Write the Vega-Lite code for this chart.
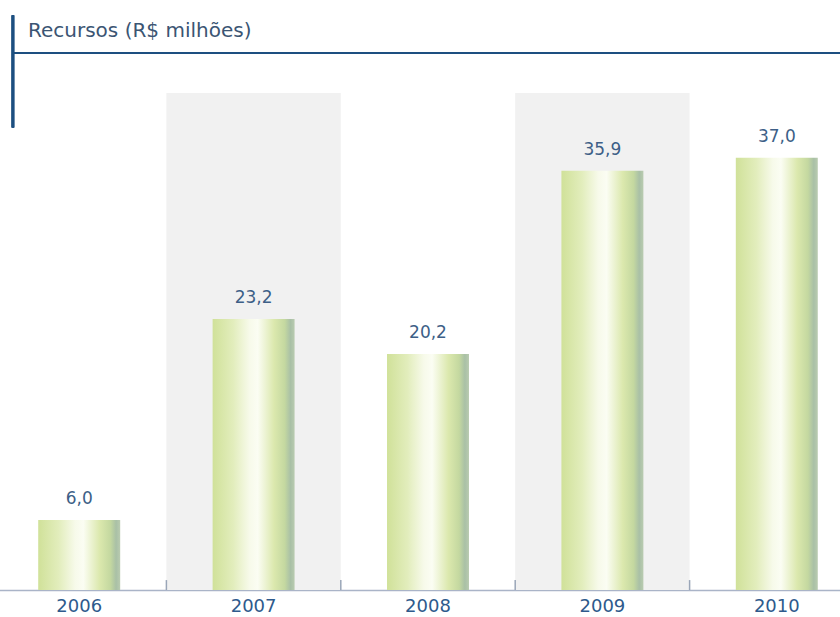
{
  "$schema": "https://vega.github.io/schema/vega-lite/v6.json",
  "width": 840,
  "height": 550,
  "autosize": {"type": "none"},
  "padding": {"top": 40, "left": 0, "right": 0, "bottom": 27},
  "background": "#ffffff",
  "title": {
    "text": "Recursos (R$ milhões)",
    "anchor": "start",
    "frame": "group",
    "dx": 28,
    "offset": -27,
    "fontSize": 20,
    "font": "DejaVu Sans",
    "fontWeight": "normal",
    "color": "#3b5573"
  },
  "config": {
    "view": {"stroke": null},
    "locale": {"number": {"decimal": ",", "thousands": ".", "grouping": [3], "currency": ["R$", ""]}}
  },
  "data": {
    "values": [
      {"ano": "2006", "valor": 6.0},
      {"ano": "2007", "valor": 23.2},
      {"ano": "2008", "valor": 20.2},
      {"ano": "2009", "valor": 35.9},
      {"ano": "2010", "valor": 37.0}
    ]
  },
  "layer": [
    {
      "transform": [{"filter": {"field": "ano", "oneOf": ["2007", "2009"]}}],
      "mark": {"type": "bar", "width": {"band": 1}, "color": "#f1f1f1"},
      "encoding": {
        "x": {
          "field": "ano",
          "type": "ordinal",
          "scale": {"domain": ["2006", "2007", "2008", "2009", "2010"], "range": [-8, 864], "paddingInner": 0, "paddingOuter": 0},
          "axis": {
            "title": null,
            "ticks": false,
            "labelFontSize": 18,
            "labelFont": "DejaVu Sans",
            "labelColor": "#2e5a8c",
            "labelPadding": 7,
            "labelAngle": 0,
            "domainColor": "#aab4c8",
            "domainWidth": 1.5
          }
        },
        "y": {"datum": 42.55, "type": "quantitative", "scale": {"domain": [0, 47.09], "nice": false, "zero": true}, "axis": null},
        "y2": {"datum": 0}
      }
    },
    {
      "transform": [{"filter": {"field": "ano", "oneOf": ["2007", "2008", "2009", "2010"]}}],
      "mark": {"type": "rule", "color": "#9aa6b8", "strokeWidth": 1.5},
      "encoding": {
        "x": {"field": "ano", "type": "ordinal", "bandPosition": 0},
        "y": {"datum": 0, "type": "quantitative"},
        "y2": {"datum": 0.85}
      }
    },
    {
      "mark": {
        "type": "bar",
        "width": {"band": 0.47},
        "color": {
          "gradient": "linear",
          "x1": 0, "x2": 1, "y1": 0, "y2": 0,
          "stops": [
            {"offset": 0, "color": "#d0e199"},
            {"offset": 0.25, "color": "#e2edbc"},
            {"offset": 0.45, "color": "#f7faea"},
            {"offset": 0.55, "color": "#fbfdf3"},
            {"offset": 0.75, "color": "#dbe8ad"},
            {"offset": 0.88, "color": "#c4d8a0"},
            {"offset": 0.95, "color": "#a9c0a6"},
            {"offset": 1, "color": "#b9cbb0"}
          ]
        }
      },
      "encoding": {
        "x": {"field": "ano", "type": "ordinal"},
        "y": {"field": "valor", "type": "quantitative"}
      }
    },
    {
      "mark": {"type": "text", "baseline": "bottom", "dy": -12, "fontSize": 17, "font": "DejaVu Sans", "color": "#3d5f87"},
      "encoding": {
        "x": {"field": "ano", "type": "ordinal"},
        "y": {"field": "valor", "type": "quantitative"},
        "text": {"field": "valor", "type": "quantitative", "format": ".1f"}
      }
    },
    {
      "mark": {"type": "rule", "color": "#1d4f80", "strokeWidth": 2.5},
      "encoding": {
        "x": {"datum": "2006", "type": "ordinal", "bandPosition": 0.12},
        "y": {"datum": 49.2, "type": "quantitative"},
        "y2": {"datum": 39.6}
      }
    },
    {
      "mark": {"type": "rule", "color": "#1d4f80", "strokeWidth": 2},
      "encoding": {
        "x": {"datum": "2006", "type": "ordinal", "bandPosition": 0.12},
        "x2": {"datum": "2010", "bandPosition": 1},
        "y": {"datum": 45.98, "type": "quantitative"}
      }
    }
  ]
}
